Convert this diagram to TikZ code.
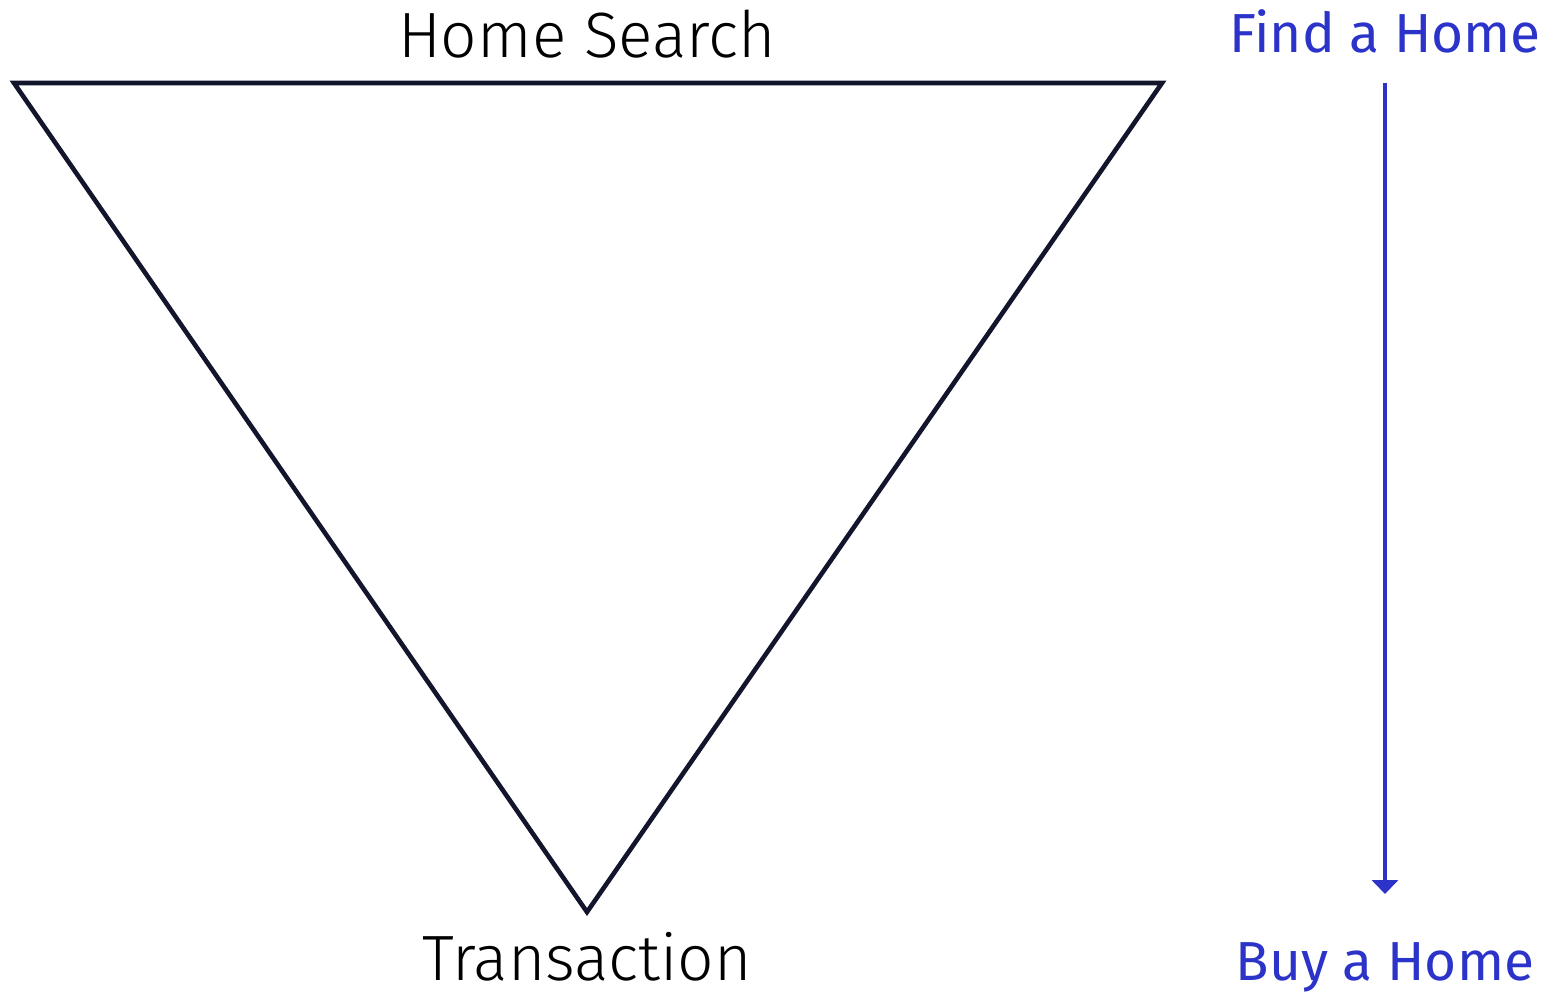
\documentclass[tikz,border=0pt]{standalone}
\usepackage{fontspec}
\setmainfont{Fira Sans Light}
\newfontfamily\stepfont{Fira Sans}
\usepackage{xcolor}
\usetikzlibrary{arrows.meta}
\definecolor{funnelline}{HTML}{12152B}
\definecolor{stepblue}{HTML}{2B33C9}

\begin{document}
\begin{tikzpicture}[x=0.5pt, y=-0.5pt,
  stage/.style={anchor=base, inner sep=0pt, font=\fontsize{32}{38}\selectfont},
  steplabel/.style={anchor=base, inner sep=0pt, text=stepblue, font=\stepfont\fontsize{27.5}{33}\selectfont}]
\useasboundingbox (0,0) rectangle (1549,993);
% funnel
\coordinate (tl) at (14,83);
\coordinate (tr) at (1162,83);
\coordinate (bot) at (587,912);
\draw[line width=2.3pt, line join=miter, color=funnelline] (tl) -- (tr) -- (bot) -- cycle;
\node[stage] (search) at (587,57) {Home Search};
\node[stage] (trans) at (587,980) {Transaction};
% right side
\node[steplabel] (find) at (1385,52) {Find a Home};
\node[steplabel] (buy) at (1385,980) {Buy a Home};
\coordinate (arrtop) at (1385,83);
\coordinate (arrbot) at (1385,894);
\draw[line width=2pt, stepblue, -{Triangle[length=7pt, width=13pt]}] (arrtop) -- (arrbot);
\end{tikzpicture}
\end{document}
